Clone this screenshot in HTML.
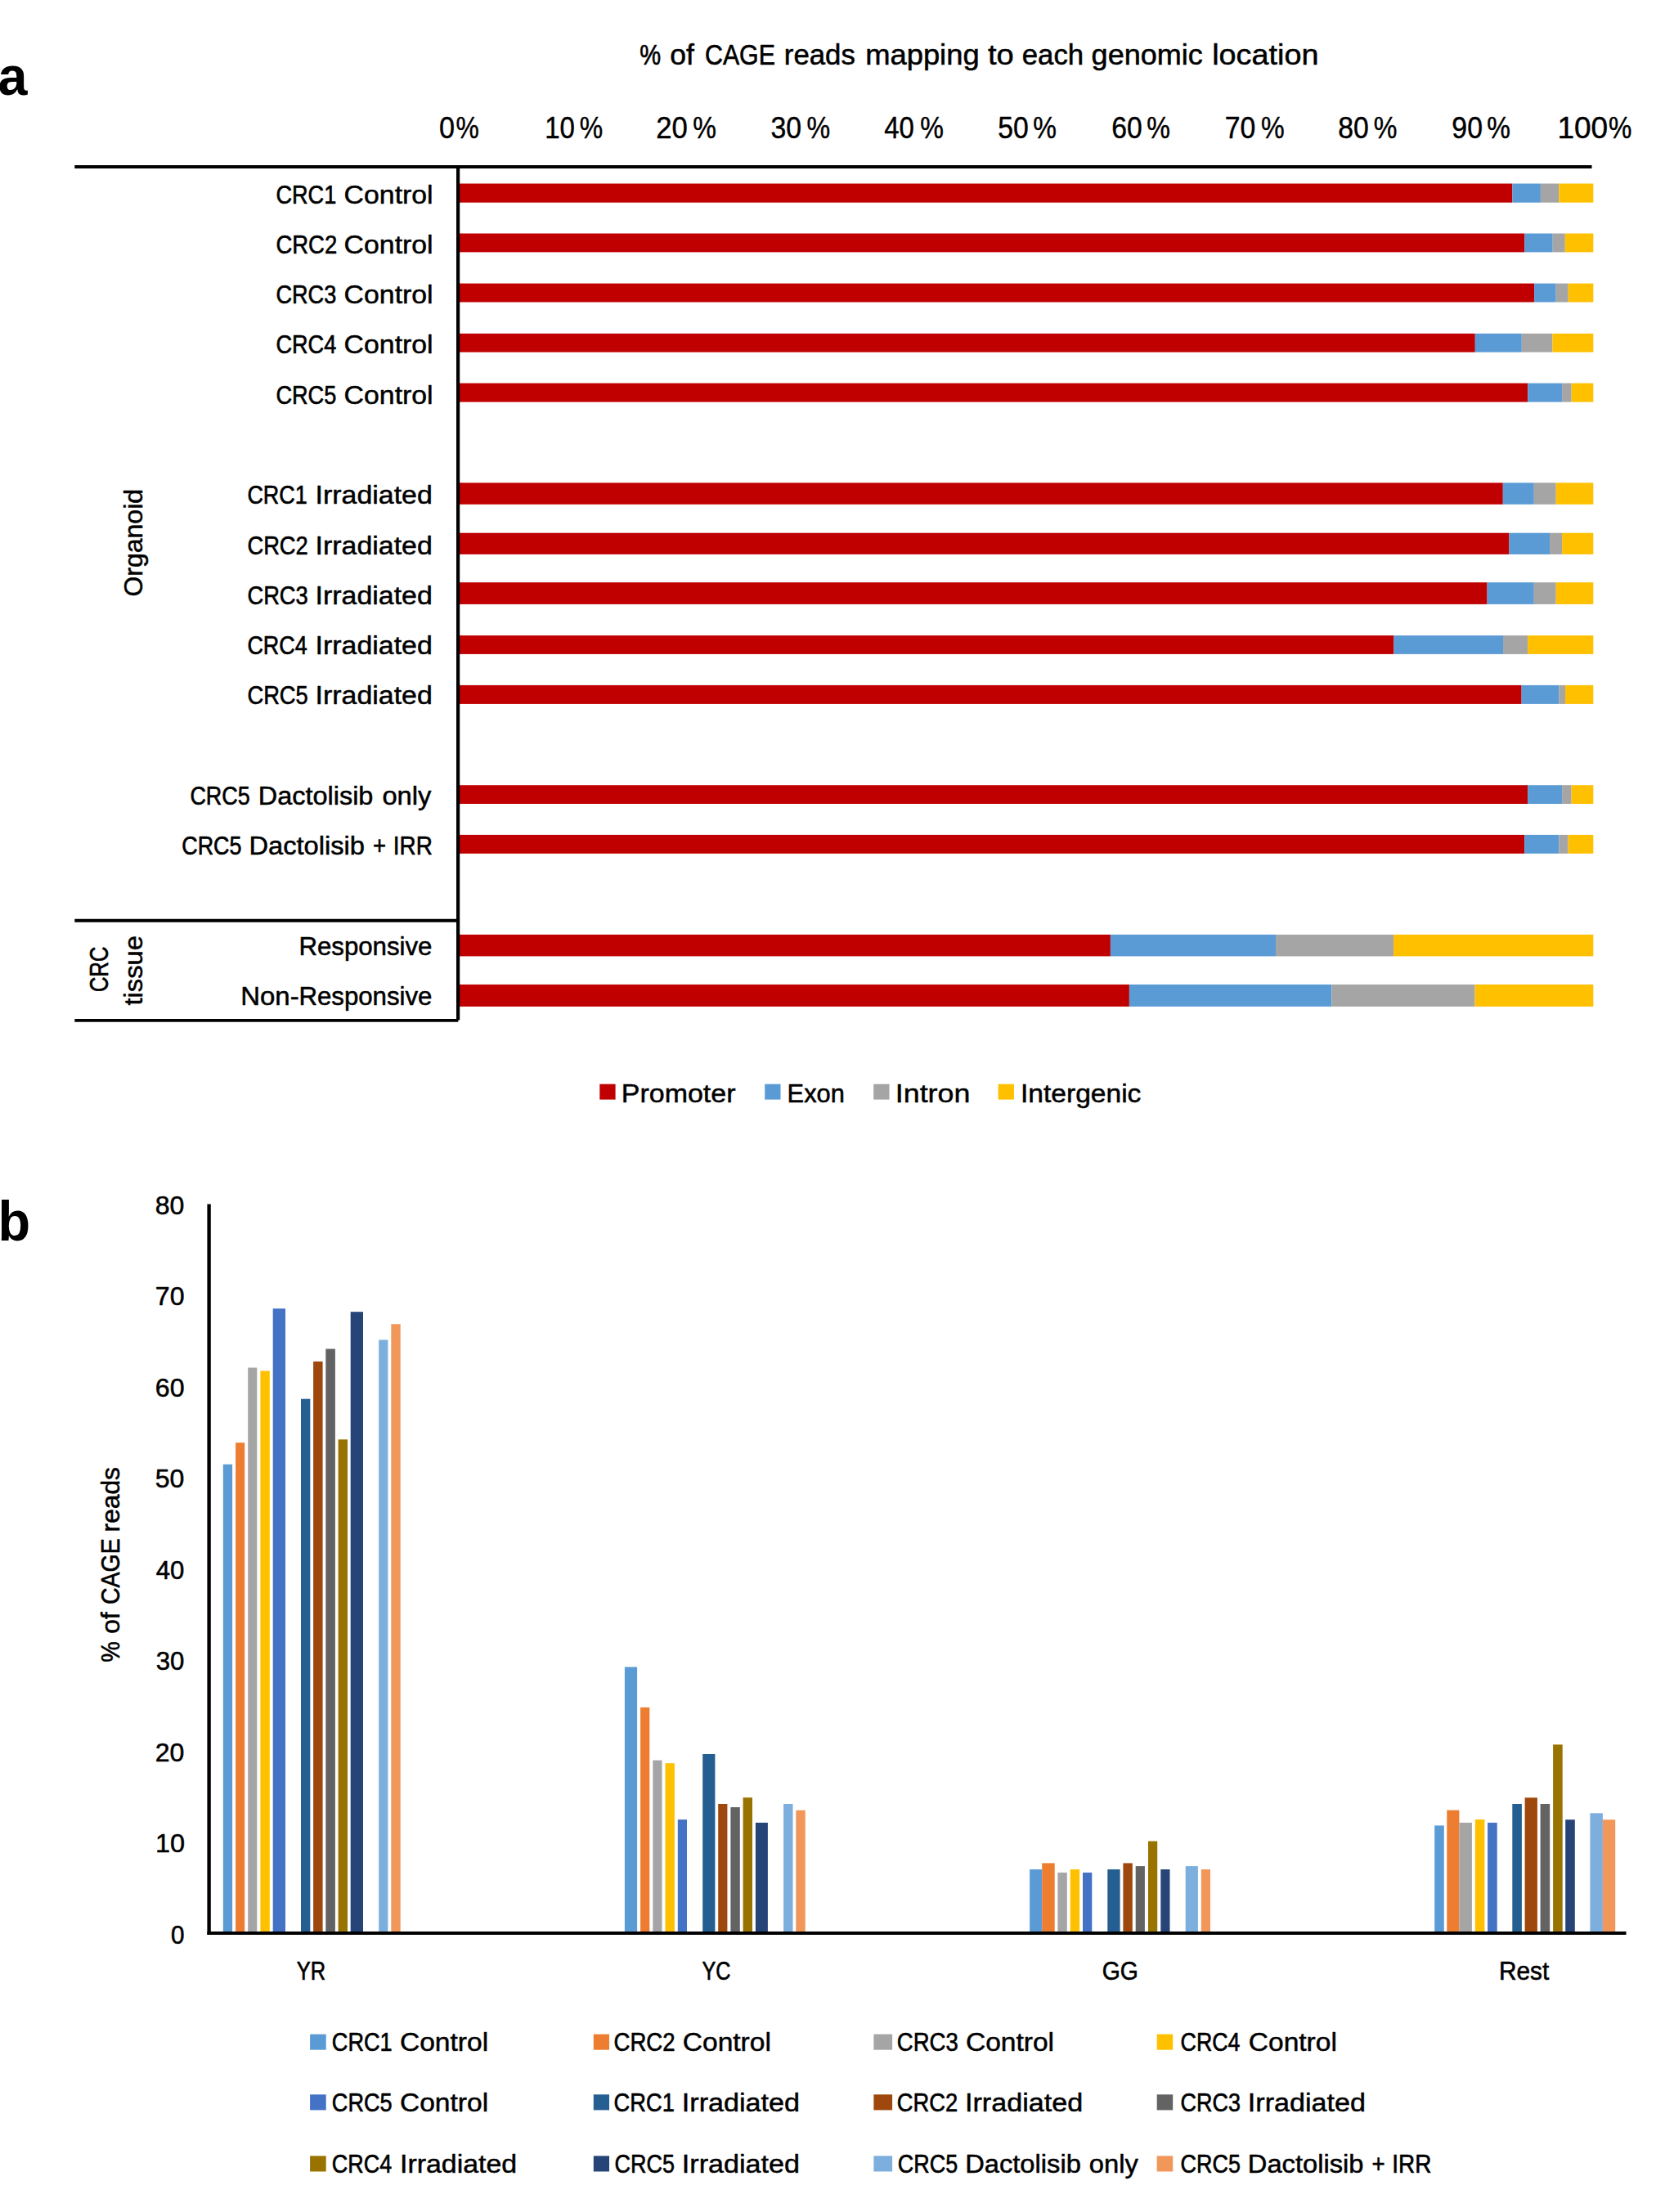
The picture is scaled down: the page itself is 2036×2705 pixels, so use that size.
<!DOCTYPE html>
<html lang="en"><head><meta charset="utf-8"><title>CAGE reads figure</title>
<style>
html,body{margin:0;padding:0;background:#fff;}
body{width:2036px;height:2705px;overflow:hidden;}
svg{display:block;}
svg text{font-family:"Liberation Sans", Arial, sans-serif;fill:#000;stroke:#000;stroke-width:0.55px;stroke-linejoin:round;}
svg text.b{stroke-width:0;}
</style></head><body>
<svg width="2036" height="2705" viewBox="0 0 2036 2705">
<rect x="0" y="0" width="2036" height="2705" fill="#fff"/>
<rect x="560.4" y="224.5" width="1289.0" height="23.2" fill="#C00000"/>
<rect x="1849.4" y="224.5" width="34.5" height="23.2" fill="#5B9BD5"/>
<rect x="1883.9" y="224.5" width="22.4" height="23.2" fill="#A5A5A5"/>
<rect x="1906.3" y="224.5" width="42.0" height="23.2" fill="#FFC000"/>
<rect x="560.4" y="285.5" width="1304.0" height="22.9" fill="#C00000"/>
<rect x="1864.4" y="285.5" width="34.3" height="22.9" fill="#5B9BD5"/>
<rect x="1898.7" y="285.5" width="15.1" height="22.9" fill="#A5A5A5"/>
<rect x="1913.8" y="285.5" width="34.5" height="22.9" fill="#FFC000"/>
<rect x="560.4" y="346.6" width="1315.7" height="22.9" fill="#C00000"/>
<rect x="1876.1" y="346.6" width="26.6" height="22.9" fill="#5B9BD5"/>
<rect x="1902.7" y="346.6" width="15.0" height="22.9" fill="#A5A5A5"/>
<rect x="1917.7" y="346.6" width="30.6" height="22.9" fill="#FFC000"/>
<rect x="560.4" y="407.9" width="1243.4" height="22.8" fill="#C00000"/>
<rect x="1803.8" y="407.9" width="57.0" height="22.8" fill="#5B9BD5"/>
<rect x="1860.8" y="407.9" width="37.6" height="22.8" fill="#A5A5A5"/>
<rect x="1898.4" y="407.9" width="49.9" height="22.8" fill="#FFC000"/>
<rect x="560.4" y="468.6" width="1307.8" height="23.0" fill="#C00000"/>
<rect x="1868.2" y="468.6" width="41.9" height="23.0" fill="#5B9BD5"/>
<rect x="1910.1" y="468.6" width="11.6" height="23.0" fill="#A5A5A5"/>
<rect x="1921.7" y="468.6" width="26.6" height="23.0" fill="#FFC000"/>
<rect x="560.4" y="590.4" width="1277.4" height="26.4" fill="#C00000"/>
<rect x="1837.8" y="590.4" width="38.0" height="26.4" fill="#5B9BD5"/>
<rect x="1875.8" y="590.4" width="26.9" height="26.4" fill="#A5A5A5"/>
<rect x="1902.7" y="590.4" width="45.6" height="26.4" fill="#FFC000"/>
<rect x="560.4" y="651.7" width="1285.1" height="26.2" fill="#C00000"/>
<rect x="1845.5" y="651.7" width="49.5" height="26.2" fill="#5B9BD5"/>
<rect x="1895.0" y="651.7" width="15.1" height="26.2" fill="#A5A5A5"/>
<rect x="1910.1" y="651.7" width="38.2" height="26.2" fill="#FFC000"/>
<rect x="560.4" y="712.2" width="1258.2" height="26.7" fill="#C00000"/>
<rect x="1818.6" y="712.2" width="57.2" height="26.7" fill="#5B9BD5"/>
<rect x="1875.8" y="712.2" width="26.9" height="26.7" fill="#A5A5A5"/>
<rect x="1902.7" y="712.2" width="45.6" height="26.7" fill="#FFC000"/>
<rect x="560.4" y="777.1" width="1144.1" height="22.8" fill="#C00000"/>
<rect x="1704.5" y="777.1" width="133.5" height="22.8" fill="#5B9BD5"/>
<rect x="1838.0" y="777.1" width="30.1" height="22.8" fill="#A5A5A5"/>
<rect x="1868.1" y="777.1" width="80.2" height="22.8" fill="#FFC000"/>
<rect x="560.4" y="837.9" width="1300.2" height="23.0" fill="#C00000"/>
<rect x="1860.6" y="837.9" width="45.7" height="23.0" fill="#5B9BD5"/>
<rect x="1906.3" y="837.9" width="7.7" height="23.0" fill="#A5A5A5"/>
<rect x="1914.0" y="837.9" width="34.3" height="23.0" fill="#FFC000"/>
<rect x="560.4" y="960.2" width="1307.7" height="22.8" fill="#C00000"/>
<rect x="1868.1" y="960.2" width="42.0" height="22.8" fill="#5B9BD5"/>
<rect x="1910.1" y="960.2" width="11.5" height="22.8" fill="#A5A5A5"/>
<rect x="1921.6" y="960.2" width="26.7" height="22.8" fill="#FFC000"/>
<rect x="560.4" y="1020.9" width="1303.8" height="22.9" fill="#C00000"/>
<rect x="1864.2" y="1020.9" width="42.1" height="22.9" fill="#5B9BD5"/>
<rect x="1906.3" y="1020.9" width="11.3" height="22.9" fill="#A5A5A5"/>
<rect x="1917.6" y="1020.9" width="30.7" height="22.9" fill="#FFC000"/>
<rect x="560.4" y="1142.9" width="797.5" height="26.5" fill="#C00000"/>
<rect x="1357.9" y="1142.9" width="202.1" height="26.5" fill="#5B9BD5"/>
<rect x="1560.0" y="1142.9" width="144.1" height="26.5" fill="#A5A5A5"/>
<rect x="1704.1" y="1142.9" width="244.2" height="26.5" fill="#FFC000"/>
<rect x="560.4" y="1203.9" width="820.5" height="27.0" fill="#C00000"/>
<rect x="1380.9" y="1203.9" width="247.6" height="27.0" fill="#5B9BD5"/>
<rect x="1628.5" y="1203.9" width="175.0" height="27.0" fill="#A5A5A5"/>
<rect x="1803.5" y="1203.9" width="144.8" height="27.0" fill="#FFC000"/>
<line x1="91.3" y1="203.9" x2="1946.5" y2="203.9" stroke="#000" stroke-width="4.0"/>
<line x1="560.1" y1="202.0" x2="560.1" y2="1247.6" stroke="#000" stroke-width="4.2"/>
<line x1="91.3" y1="1125.8" x2="560.1" y2="1125.8" stroke="#000" stroke-width="4.0"/>
<line x1="91.3" y1="1247.8" x2="560.3" y2="1247.8" stroke="#000" stroke-width="3.7"/>
<rect x="733.3" y="1325.7" width="19.3" height="18.9" fill="#C00000"/>
<rect x="935.2" y="1325.7" width="19.3" height="18.9" fill="#5B9BD5"/>
<rect x="1068.2" y="1325.7" width="19.3" height="18.9" fill="#A5A5A5"/>
<rect x="1220.6" y="1325.7" width="19.3" height="18.9" fill="#FFC000"/>
<rect x="272.8" y="1790.7" width="11.3" height="573.3" fill="#5B9BD5"/>
<rect x="288.1" y="1764.2" width="11.1" height="599.8" fill="#ED7D31"/>
<rect x="303.2" y="1672.5" width="11.1" height="691.5" fill="#A5A5A5"/>
<rect x="318.4" y="1676.4" width="11.4" height="687.6" fill="#FFC000"/>
<rect x="333.7" y="1600.2" width="15.3" height="763.8" fill="#4472C4"/>
<rect x="368.0" y="1710.7" width="11.3" height="653.3" fill="#255E91"/>
<rect x="383.1" y="1664.9" width="11.5" height="699.1" fill="#9E480E"/>
<rect x="398.3" y="1649.5" width="11.6" height="714.5" fill="#636363"/>
<rect x="413.6" y="1760.3" width="11.4" height="603.7" fill="#997300"/>
<rect x="428.7" y="1604.2" width="15.3" height="759.8" fill="#264478"/>
<rect x="463.2" y="1638.5" width="11.2" height="725.5" fill="#7CAFDD"/>
<rect x="478.3" y="1619.2" width="11.4" height="744.8" fill="#F1975A"/>
<rect x="763.9" y="2038.5" width="15.2" height="325.5" fill="#5B9BD5"/>
<rect x="783.1" y="2087.9" width="11.2" height="276.1" fill="#ED7D31"/>
<rect x="798.3" y="2152.6" width="11.2" height="211.4" fill="#A5A5A5"/>
<rect x="813.5" y="2156.2" width="11.4" height="207.8" fill="#FFC000"/>
<rect x="828.8" y="2225.1" width="11.2" height="138.9" fill="#4472C4"/>
<rect x="859.2" y="2145.0" width="15.2" height="219.0" fill="#255E91"/>
<rect x="878.2" y="2206.0" width="11.2" height="158.0" fill="#9E480E"/>
<rect x="893.4" y="2210.0" width="11.4" height="154.0" fill="#636363"/>
<rect x="908.6" y="2198.2" width="11.4" height="165.8" fill="#997300"/>
<rect x="923.9" y="2228.9" width="15.0" height="135.1" fill="#264478"/>
<rect x="958.1" y="2206.0" width="11.4" height="158.0" fill="#7CAFDD"/>
<rect x="973.3" y="2213.7" width="11.4" height="150.3" fill="#F1975A"/>
<rect x="1259.1" y="2286.0" width="15.1" height="78.0" fill="#5B9BD5"/>
<rect x="1274.2" y="2278.4" width="15.5" height="85.6" fill="#ED7D31"/>
<rect x="1293.4" y="2289.9" width="11.4" height="74.1" fill="#A5A5A5"/>
<rect x="1308.7" y="2286.0" width="11.4" height="78.0" fill="#FFC000"/>
<rect x="1324.0" y="2289.9" width="11.3" height="74.1" fill="#4472C4"/>
<rect x="1354.3" y="2286.0" width="15.3" height="78.0" fill="#255E91"/>
<rect x="1373.4" y="2278.4" width="11.4" height="85.6" fill="#9E480E"/>
<rect x="1388.7" y="2282.1" width="11.2" height="81.9" fill="#636363"/>
<rect x="1404.0" y="2251.5" width="11.2" height="112.5" fill="#997300"/>
<rect x="1419.3" y="2286.0" width="11.2" height="78.0" fill="#264478"/>
<rect x="1449.7" y="2282.1" width="15.2" height="81.9" fill="#7CAFDD"/>
<rect x="1468.8" y="2286.0" width="11.2" height="78.0" fill="#F1975A"/>
<rect x="1754.2" y="2232.4" width="11.6" height="131.6" fill="#5B9BD5"/>
<rect x="1769.3" y="2213.6" width="15.1" height="150.4" fill="#ED7D31"/>
<rect x="1784.4" y="2228.9" width="15.5" height="135.1" fill="#A5A5A5"/>
<rect x="1803.8" y="2225.0" width="11.6" height="139.0" fill="#FFC000"/>
<rect x="1819.1" y="2228.9" width="11.6" height="135.1" fill="#4472C4"/>
<rect x="1849.3" y="2206.0" width="11.6" height="158.0" fill="#255E91"/>
<rect x="1864.6" y="2198.3" width="15.3" height="165.7" fill="#9E480E"/>
<rect x="1883.6" y="2206.0" width="11.6" height="158.0" fill="#636363"/>
<rect x="1899.1" y="2133.4" width="11.6" height="230.6" fill="#997300"/>
<rect x="1914.2" y="2225.2" width="11.6" height="138.8" fill="#264478"/>
<rect x="1944.4" y="2217.3" width="15.5" height="146.7" fill="#7CAFDD"/>
<rect x="1959.9" y="2225.2" width="15.3" height="138.8" fill="#F1975A"/>
<line x1="255.6" y1="1472.4" x2="255.6" y2="2366.0" stroke="#000" stroke-width="4.4"/>
<line x1="253.4" y1="2364.0" x2="1988.5" y2="2364.0" stroke="#000" stroke-width="4.0"/>
<rect x="379.1" y="2487.6" width="19.6" height="19.1" fill="#5B9BD5"/>
<rect x="725.8" y="2487.6" width="19.2" height="19.1" fill="#ED7D31"/>
<rect x="1068.4" y="2487.6" width="22.7" height="19.1" fill="#A5A5A5"/>
<rect x="1414.7" y="2487.6" width="19.5" height="19.1" fill="#FFC000"/>
<rect x="379.1" y="2561.3" width="19.6" height="19.1" fill="#4472C4"/>
<rect x="725.8" y="2561.3" width="19.2" height="19.1" fill="#255E91"/>
<rect x="1068.4" y="2561.3" width="22.7" height="19.1" fill="#9E480E"/>
<rect x="1414.7" y="2561.3" width="19.5" height="19.1" fill="#636363"/>
<rect x="379.1" y="2636.4" width="19.6" height="19.1" fill="#997300"/>
<rect x="725.8" y="2636.4" width="19.2" height="19.1" fill="#264478"/>
<rect x="1068.4" y="2636.4" width="22.7" height="19.1" fill="#7CAFDD"/>
<rect x="1414.7" y="2636.4" width="19.5" height="19.1" fill="#F1975A"/>
<text class="b" x="-2.6" y="115.8" font-size="66" font-weight="bold" textLength="36" lengthAdjust="spacingAndGlyphs">a</text>
<text class="b" x="-2.6" y="1516.7" font-size="69" font-weight="bold" textLength="39.6" lengthAdjust="spacingAndGlyphs">b</text>
<text y="79.2" font-size="34.2"><tspan x="782.20" textLength="25.89" lengthAdjust="spacingAndGlyphs" stroke-width="0.67">%</tspan> <tspan x="819.20" textLength="29.64" lengthAdjust="spacingAndGlyphs" stroke-width="0.52">of</tspan> <tspan x="862.00" textLength="85.88" lengthAdjust="spacingAndGlyphs" stroke-width="0.64">CAGE</tspan> <tspan x="958.80" textLength="87.05" lengthAdjust="spacingAndGlyphs" stroke-width="0.54">reads</tspan> <tspan x="1058.20" textLength="139.43" lengthAdjust="spacingAndGlyphs" stroke-width="0.50">mapping</tspan> <tspan x="1208.00" textLength="31.79" lengthAdjust="spacingAndGlyphs" stroke-width="0.46">to</tspan> <tspan x="1249.80" textLength="75.27" lengthAdjust="spacingAndGlyphs" stroke-width="0.54">each</tspan> <tspan x="1334.60" textLength="136.32" lengthAdjust="spacingAndGlyphs" stroke-width="0.51">genomic</tspan> <tspan x="1482.20" textLength="130.28" lengthAdjust="spacingAndGlyphs" stroke-width="0.47">location</tspan></text>
<text y="168.7" font-size="36.0"><tspan x="537.00" textLength="19.04" lengthAdjust="spacingAndGlyphs" stroke-width="0.45">0</tspan><tspan x="557.40" textLength="28.29" lengthAdjust="spacingAndGlyphs" stroke-width="0.45">%</tspan></text>
<text y="168.7" font-size="36.0"><tspan x="666.20" textLength="36.75" lengthAdjust="spacingAndGlyphs" stroke-width="0.45">10</tspan><tspan x="708.80" textLength="28.42" lengthAdjust="spacingAndGlyphs" stroke-width="0.45">%</tspan></text>
<text y="168.7" font-size="36.0"><tspan x="802.34" textLength="38.59" lengthAdjust="spacingAndGlyphs" stroke-width="0.45">20</tspan><tspan x="847.24" textLength="28.66" lengthAdjust="spacingAndGlyphs" stroke-width="0.45">%</tspan></text>
<text y="168.7" font-size="36.0"><tspan x="942.38" textLength="37.60" lengthAdjust="spacingAndGlyphs" stroke-width="0.45">30</tspan><tspan x="986.53" textLength="28.66" lengthAdjust="spacingAndGlyphs" stroke-width="0.45">%</tspan></text>
<text y="168.7" font-size="36.0"><tspan x="1081.17" textLength="36.63" lengthAdjust="spacingAndGlyphs" stroke-width="0.45">40</tspan><tspan x="1125.32" textLength="28.66" lengthAdjust="spacingAndGlyphs" stroke-width="0.45">%</tspan></text>
<text y="168.7" font-size="36.0"><tspan x="1220.21" textLength="37.49" lengthAdjust="spacingAndGlyphs" stroke-width="0.45">50</tspan><tspan x="1263.36" textLength="28.66" lengthAdjust="spacingAndGlyphs" stroke-width="0.45">%</tspan></text>
<text y="168.7" font-size="36.0"><tspan x="1359.25" textLength="37.52" lengthAdjust="spacingAndGlyphs" stroke-width="0.45">60</tspan><tspan x="1402.15" textLength="28.66" lengthAdjust="spacingAndGlyphs" stroke-width="0.45">%</tspan></text>
<text y="168.7" font-size="36.0"><tspan x="1497.79" textLength="37.60" lengthAdjust="spacingAndGlyphs" stroke-width="0.45">70</tspan><tspan x="1541.94" textLength="28.66" lengthAdjust="spacingAndGlyphs" stroke-width="0.45">%</tspan></text>
<text y="168.7" font-size="36.0"><tspan x="1636.33" textLength="37.49" lengthAdjust="spacingAndGlyphs" stroke-width="0.45">80</tspan><tspan x="1679.73" textLength="28.66" lengthAdjust="spacingAndGlyphs" stroke-width="0.45">%</tspan></text>
<text y="168.7" font-size="36.0"><tspan x="1775.37" textLength="37.60" lengthAdjust="spacingAndGlyphs" stroke-width="0.45">90</tspan><tspan x="1818.27" textLength="28.66" lengthAdjust="spacingAndGlyphs" stroke-width="0.45">%</tspan></text>
<text y="168.7" font-size="36.0"><tspan x="1904.40" textLength="61.81" lengthAdjust="spacingAndGlyphs" stroke-width="0.45">100</tspan><tspan x="1967.00" textLength="28.35" lengthAdjust="spacingAndGlyphs" stroke-width="0.45">%</tspan></text>
<text y="248.5" font-size="31.0"><tspan x="337.40" textLength="73.86" lengthAdjust="spacingAndGlyphs" stroke-width="0.65">CRC1</tspan> <tspan x="420.60" textLength="109.05" lengthAdjust="spacingAndGlyphs" stroke-width="0.48">Control</tspan></text>
<text y="309.8" font-size="31.0"><tspan x="337.40" textLength="74.88" lengthAdjust="spacingAndGlyphs" stroke-width="0.64">CRC2</tspan> <tspan x="420.60" textLength="109.05" lengthAdjust="spacingAndGlyphs" stroke-width="0.48">Control</tspan></text>
<text y="371.1" font-size="31.0"><tspan x="337.40" textLength="73.89" lengthAdjust="spacingAndGlyphs" stroke-width="0.65">CRC3</tspan> <tspan x="420.60" textLength="109.05" lengthAdjust="spacingAndGlyphs" stroke-width="0.48">Control</tspan></text>
<text y="432.4" font-size="31.0"><tspan x="337.40" textLength="73.91" lengthAdjust="spacingAndGlyphs" stroke-width="0.65">CRC4</tspan> <tspan x="420.60" textLength="109.05" lengthAdjust="spacingAndGlyphs" stroke-width="0.48">Control</tspan></text>
<text y="493.7" font-size="31.0"><tspan x="337.40" textLength="73.87" lengthAdjust="spacingAndGlyphs" stroke-width="0.65">CRC5</tspan> <tspan x="420.60" textLength="109.05" lengthAdjust="spacingAndGlyphs" stroke-width="0.48">Control</tspan></text>
<text y="616.2" font-size="31.0"><tspan x="302.40" textLength="73.39" lengthAdjust="spacingAndGlyphs" stroke-width="0.65">CRC1</tspan> <tspan x="385.60" textLength="143.15" lengthAdjust="spacingAndGlyphs" stroke-width="0.48">Irradiated</tspan></text>
<text y="677.5" font-size="31.0"><tspan x="302.40" textLength="74.41" lengthAdjust="spacingAndGlyphs" stroke-width="0.64">CRC2</tspan> <tspan x="385.60" textLength="143.15" lengthAdjust="spacingAndGlyphs" stroke-width="0.48">Irradiated</tspan></text>
<text y="738.8" font-size="31.0"><tspan x="302.40" textLength="74.43" lengthAdjust="spacingAndGlyphs" stroke-width="0.64">CRC3</tspan> <tspan x="385.60" textLength="143.15" lengthAdjust="spacingAndGlyphs" stroke-width="0.48">Irradiated</tspan></text>
<text y="800.1" font-size="31.0"><tspan x="302.40" textLength="73.40" lengthAdjust="spacingAndGlyphs" stroke-width="0.65">CRC4</tspan> <tspan x="385.60" textLength="143.15" lengthAdjust="spacingAndGlyphs" stroke-width="0.48">Irradiated</tspan></text>
<text y="861.4" font-size="31.0"><tspan x="302.40" textLength="74.43" lengthAdjust="spacingAndGlyphs" stroke-width="0.64">CRC5</tspan> <tspan x="385.60" textLength="143.15" lengthAdjust="spacingAndGlyphs" stroke-width="0.48">Irradiated</tspan></text>
<text y="984.0" font-size="31.0"><tspan x="232.40" textLength="73.37" lengthAdjust="spacingAndGlyphs" stroke-width="0.65">CRC5</tspan> <tspan x="315.80" textLength="140.58" lengthAdjust="spacingAndGlyphs" stroke-width="0.51">Dactolisib</tspan> <tspan x="467.40" textLength="59.99" lengthAdjust="spacingAndGlyphs" stroke-width="0.51">only</tspan></text>
<text y="1045.3" font-size="31.0"><tspan x="222.20" textLength="73.30" lengthAdjust="spacingAndGlyphs" stroke-width="0.66">CRC5</tspan> <tspan x="304.40" textLength="141.60" lengthAdjust="spacingAndGlyphs" stroke-width="0.51">Dactolisib</tspan> <tspan x="456.00" textLength="16.07" lengthAdjust="spacingAndGlyphs" stroke-width="0.64">+</tspan> <tspan x="480.80" textLength="48.09" lengthAdjust="spacingAndGlyphs" stroke-width="0.63">IRR</tspan></text>
<text y="1167.9" font-size="31.0"><tspan x="365.40" textLength="163.04" lengthAdjust="spacingAndGlyphs" stroke-width="0.54">Responsive</tspan></text>
<text y="1229.1" font-size="31.0"><tspan x="294.20" textLength="71.45" lengthAdjust="spacingAndGlyphs" stroke-width="0.50">Non-</tspan><tspan x="365.40" textLength="163.04" lengthAdjust="spacingAndGlyphs" stroke-width="0.54">Responsive</tspan></text>
<text transform="translate(174.4 0) rotate(-90)" font-size="31.0"><tspan x="-729.60" textLength="131.68" lengthAdjust="spacingAndGlyphs" stroke-width="0.52">Organoid</tspan></text>
<text transform="translate(132.0 0) rotate(-90)" font-size="31.0"><tspan x="-1213.00" textLength="55.34" lengthAdjust="spacingAndGlyphs" stroke-width="0.69">CRC</tspan></text>
<text transform="translate(174.0 0) rotate(-90)" font-size="31.0"><tspan x="-1229.60" textLength="85.58" lengthAdjust="spacingAndGlyphs" stroke-width="0.50">tissue</tspan></text>
<text y="1348.4" font-size="31.0"><tspan x="759.80" textLength="139.65" lengthAdjust="spacingAndGlyphs" stroke-width="0.47">Promoter</tspan></text>
<text y="1348.4" font-size="31.0"><tspan x="962.60" textLength="70.22" lengthAdjust="spacingAndGlyphs" stroke-width="0.56">Exon</tspan></text>
<text y="1348.4" font-size="31.0"><tspan x="1094.80" textLength="91.49" lengthAdjust="spacingAndGlyphs" stroke-width="0.43">Intron</tspan></text>
<text y="1348.4" font-size="31.0"><tspan x="1248.00" textLength="147.40" lengthAdjust="spacingAndGlyphs" stroke-width="0.48">Intergenic</tspan></text>
<text y="2376.5" font-size="31.0"><tspan x="209.00" textLength="16.50" lengthAdjust="spacingAndGlyphs" stroke-width="0.58">0</tspan></text>
<text y="2265.0" font-size="31.0"><tspan x="190.00" textLength="36.13" lengthAdjust="spacingAndGlyphs" stroke-width="0.51">10</tspan></text>
<text y="2153.6" font-size="31.0"><tspan x="189.80" textLength="35.65" lengthAdjust="spacingAndGlyphs" stroke-width="0.52">20</tspan></text>
<text y="2042.1" font-size="31.0"><tspan x="190.80" textLength="34.64" lengthAdjust="spacingAndGlyphs" stroke-width="0.55">30</tspan></text>
<text y="1930.7" font-size="31.0"><tspan x="190.80" textLength="34.64" lengthAdjust="spacingAndGlyphs" stroke-width="0.55">40</tspan></text>
<text y="1819.2" font-size="31.0"><tspan x="189.80" textLength="35.65" lengthAdjust="spacingAndGlyphs" stroke-width="0.52">50</tspan></text>
<text y="1707.7" font-size="31.0"><tspan x="189.80" textLength="35.68" lengthAdjust="spacingAndGlyphs" stroke-width="0.52">60</tspan></text>
<text y="1596.3" font-size="31.0"><tspan x="189.80" textLength="35.68" lengthAdjust="spacingAndGlyphs" stroke-width="0.52">70</tspan></text>
<text y="1484.8" font-size="31.0"><tspan x="189.80" textLength="35.65" lengthAdjust="spacingAndGlyphs" stroke-width="0.52">80</tspan></text>
<text transform="translate(146.0 0) rotate(-90)" font-size="31.0"><tspan x="-2032.80" textLength="25.60" lengthAdjust="spacingAndGlyphs" stroke-width="0.61">%</tspan> <tspan x="-1997.80" textLength="26.48" lengthAdjust="spacingAndGlyphs" stroke-width="0.53">of</tspan> <tspan x="-1962.00" textLength="80.68" lengthAdjust="spacingAndGlyphs" stroke-width="0.62">CAGE</tspan> <tspan x="-1873.40" textLength="79.34" lengthAdjust="spacingAndGlyphs" stroke-width="0.53">reads</tspan></text>
<text y="2421.0" font-size="31.0"><tspan x="362.80" textLength="35.40" lengthAdjust="spacingAndGlyphs" stroke-width="0.69">YR</tspan></text>
<text y="2421.0" font-size="31.0"><tspan x="858.60" textLength="34.93" lengthAdjust="spacingAndGlyphs" stroke-width="0.70">YC</tspan></text>
<text y="2421.0" font-size="31.0"><tspan x="1347.80" textLength="44.15" lengthAdjust="spacingAndGlyphs" stroke-width="0.62">GG</tspan></text>
<text y="2421.0" font-size="31.0"><tspan x="1833.00" textLength="61.23" lengthAdjust="spacingAndGlyphs" stroke-width="0.58">Rest</tspan></text>
<text y="2507.8" font-size="31.0"><tspan x="405.80" textLength="73.85" lengthAdjust="spacingAndGlyphs" stroke-width="0.65">CRC1</tspan> <tspan x="489.00" textLength="108.09" lengthAdjust="spacingAndGlyphs" stroke-width="0.48">Control</tspan></text>
<text y="2507.8" font-size="31.0"><tspan x="750.60" textLength="74.90" lengthAdjust="spacingAndGlyphs" stroke-width="0.64">CRC2</tspan> <tspan x="834.80" textLength="108.07" lengthAdjust="spacingAndGlyphs" stroke-width="0.48">Control</tspan></text>
<text y="2507.8" font-size="31.0"><tspan x="1096.80" textLength="74.88" lengthAdjust="spacingAndGlyphs" stroke-width="0.64">CRC3</tspan> <tspan x="1181.00" textLength="108.07" lengthAdjust="spacingAndGlyphs" stroke-width="0.48">Control</tspan></text>
<text y="2507.8" font-size="31.0"><tspan x="1443.60" textLength="72.90" lengthAdjust="spacingAndGlyphs" stroke-width="0.66">CRC4</tspan> <tspan x="1526.80" textLength="108.07" lengthAdjust="spacingAndGlyphs" stroke-width="0.48">Control</tspan></text>
<text y="2582.0" font-size="31.0"><tspan x="405.80" textLength="73.88" lengthAdjust="spacingAndGlyphs" stroke-width="0.65">CRC5</tspan> <tspan x="489.00" textLength="108.09" lengthAdjust="spacingAndGlyphs" stroke-width="0.48">Control</tspan></text>
<text y="2582.0" font-size="31.0"><tspan x="750.60" textLength="74.37" lengthAdjust="spacingAndGlyphs" stroke-width="0.65">CRC1</tspan> <tspan x="833.80" textLength="144.13" lengthAdjust="spacingAndGlyphs" stroke-width="0.47">Irradiated</tspan></text>
<text y="2582.0" font-size="31.0"><tspan x="1096.80" textLength="74.45" lengthAdjust="spacingAndGlyphs" stroke-width="0.64">CRC2</tspan> <tspan x="1180.00" textLength="144.17" lengthAdjust="spacingAndGlyphs" stroke-width="0.47">Irradiated</tspan></text>
<text y="2582.0" font-size="31.0"><tspan x="1443.60" textLength="73.35" lengthAdjust="spacingAndGlyphs" stroke-width="0.65">CRC3</tspan> <tspan x="1525.80" textLength="144.13" lengthAdjust="spacingAndGlyphs" stroke-width="0.47">Irradiated</tspan></text>
<text y="2656.6" font-size="31.0"><tspan x="405.80" textLength="73.35" lengthAdjust="spacingAndGlyphs" stroke-width="0.65">CRC4</tspan> <tspan x="489.00" textLength="143.18" lengthAdjust="spacingAndGlyphs" stroke-width="0.48">Irradiated</tspan></text>
<text y="2656.6" font-size="31.0"><tspan x="751.60" textLength="73.35" lengthAdjust="spacingAndGlyphs" stroke-width="0.65">CRC5</tspan> <tspan x="833.80" textLength="144.13" lengthAdjust="spacingAndGlyphs" stroke-width="0.47">Irradiated</tspan></text>
<text y="2656.6" font-size="31.0"><tspan x="1097.80" textLength="73.36" lengthAdjust="spacingAndGlyphs" stroke-width="0.65">CRC5</tspan> <tspan x="1180.20" textLength="141.65" lengthAdjust="spacingAndGlyphs" stroke-width="0.51">Dactolisib</tspan> <tspan x="1331.80" textLength="60.04" lengthAdjust="spacingAndGlyphs" stroke-width="0.51">only</tspan></text>
<text y="2656.6" font-size="31.0"><tspan x="1443.60" textLength="73.31" lengthAdjust="spacingAndGlyphs" stroke-width="0.66">CRC5</tspan> <tspan x="1525.80" textLength="141.67" lengthAdjust="spacingAndGlyphs" stroke-width="0.51">Dactolisib</tspan> <tspan x="1677.40" textLength="16.17" lengthAdjust="spacingAndGlyphs" stroke-width="0.64">+</tspan> <tspan x="1702.20" textLength="48.20" lengthAdjust="spacingAndGlyphs" stroke-width="0.63">IRR</tspan></text>
</svg>
</body></html>
